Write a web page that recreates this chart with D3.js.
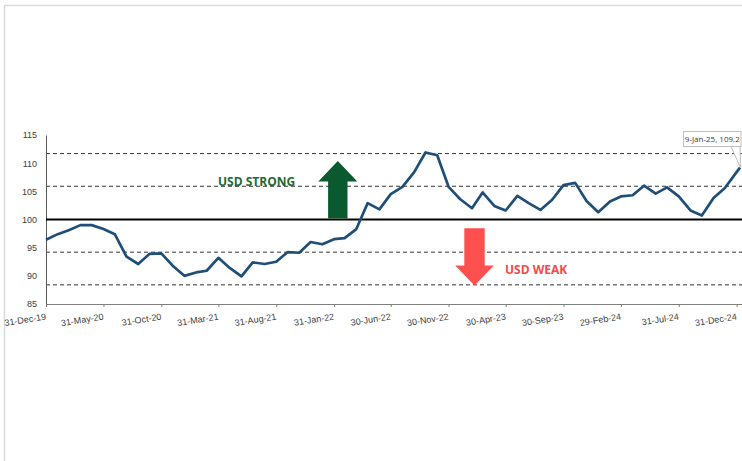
<!DOCTYPE html>
<html>
<head>
<meta charset="utf-8">
<script src="https://cdn.jsdelivr.net/npm/d3@7/dist/d3.min.js"></script>
<style>
  html, body { margin: 0; padding: 0; background: #fff; }
  svg { display: block; font-family: "Open Sans", "Noto Sans", sans-serif; }
</style>
</head>
<body>
<svg id="chart" width="742" height="461"></svg>
<script>
// US Dollar Index, month-end closes from Dec 2019, plus the latest print
const startMonth = "2019-12";
const dxyValues = [
  96.4, 97.4, 98.1, 99.0, 99.0, 98.3, 97.4, 93.4, 92.1, 93.9, 94.0, 91.8,
  90.0, 90.6, 90.9, 93.2, 91.4, 89.9, 92.4, 92.1, 92.5, 94.2, 94.1, 96.0,
  95.6, 96.5, 96.7, 98.3, 102.9, 101.8, 104.5, 105.8, 108.4, 111.9, 111.4, 105.8,
  103.6, 102.0, 104.8, 102.4, 101.6, 104.2, 102.9, 101.7, 103.5, 106.1, 106.5, 103.3,
  101.3, 103.2, 104.1, 104.3, 106.0, 104.6, 105.7, 104.1, 101.6, 100.7, 103.8, 105.6,
  108.4
];
const latestDate = "2025-01-09";
const latestValue = 109.2;

// Reference levels: neutral 100 and bands either side
const neutralLevel = 100;
const bandLevels = [111.7, 105.9, 94.2, 88.4];

// Axis ticks
const yTicks = [85, 90, 95, 100, 105, 110, 115];
const xTickDates = ["2019-12-31", "2020-05-31", "2020-10-31", "2021-03-31", "2021-08-31",
  "2022-01-31", "2022-06-30", "2022-11-30", "2023-04-30", "2023-09-30",
  "2024-02-29", "2024-07-31", "2024-12-31"];

const strongLabel = "USD STRONG";
const weakLabel = "USD WEAK";

const parse = d3.utcParse("%Y-%m-%d");
const fmt = d3.utcFormat("%-d-%b-%y");

// Build month-end dates for the monthly series
const firstMonth = d3.utcParse("%Y-%m")(startMonth);
const series = dxyValues.map((v, i) => {
  const nextMonthStart = d3.utcMonth.offset(firstMonth, i + 1);
  return { date: d3.utcDay.offset(nextMonthStart, -1), value: v };
});
series.push({ date: parse(latestDate), value: latestValue });

const svg = d3.select("#chart");

// Faint frame around the graphic
svg.append("path")
  .attr("d", "M4.5,461 V5.5 H742")
  .attr("fill", "none")
  .attr("stroke", "#d9d9d9")
  .attr("stroke-width", 1.5);

const x = d3.scaleUtc()
  .domain([series[0].date, parse(latestDate)])
  .range([46, 740]);
const y = d3.scaleLinear()
  .domain([85, 115])
  .range([304, 135]);

const plotRight = 742;

// Dashed band lines
svg.append("g").selectAll("line").data(bandLevels).join("line")
  .attr("x1", x.range()[0]).attr("x2", plotRight)
  .attr("y1", d => y(d)).attr("y2", d => y(d))
  .attr("stroke", "#333")
  .attr("stroke-width", 1)
  .attr("stroke-dasharray", "4,3");

// Y axis
const yAxis = svg.append("g")
  .attr("transform", `translate(${x.range()[0]},0)`)
  .call(d3.axisLeft(y).tickValues(yTicks).tickSize(0).tickPadding(9));
yAxis.select(".domain").attr("stroke", "#595959").attr("stroke-width", 1);
yAxis.selectAll("text").attr("fill", "#404040").attr("font-size", "9px");

// X axis
const xAxis = svg.append("g")
  .attr("transform", `translate(0,${y(85)})`)
  .call(d3.axisBottom(x).tickValues(xTickDates.map(parse)).tickFormat(fmt).tickSize(3).tickSizeOuter(0));
xAxis.select(".domain").attr("stroke", "#7f7f7f").attr("stroke-width", 1)
  .attr("d", `M${x.range()[0]},0.5H${plotRight}`);
xAxis.selectAll(".tick line").attr("stroke", "#7f7f7f");
xAxis.selectAll("text")
  .attr("fill", "#404040")
  .attr("font-size", "9px")
  .attr("text-anchor", "end")
  .attr("dy", null)
  .attr("y", 0)
  .attr("transform", "translate(0,15.5) rotate(-9)");

// Neutral line at 100
svg.append("line")
  .attr("x1", x.range()[0]).attr("x2", plotRight)
  .attr("y1", y(neutralLevel)).attr("y2", y(neutralLevel))
  .attr("stroke", "#000")
  .attr("stroke-width", 2);

// Strength arrow (up) and weakness arrow (down)
function arrowPath(cx, tipY, headY, endY, headHalf, shaftHalf) {
  return `M${cx},${tipY} L${cx + headHalf},${headY} L${cx + shaftHalf},${headY} ` +
         `L${cx + shaftHalf},${endY} L${cx - shaftHalf},${endY} L${cx - shaftHalf},${headY} ` +
         `L${cx - headHalf},${headY} Z`;
}
svg.append("path")
  .attr("d", arrowPath(337.8, 161, 181.5, y(neutralLevel) - 1, 19.5, 9.7))
  .attr("fill", "#0b5a2f");
svg.append("path")
  .attr("d", arrowPath(474.5, 285.5, 265.5, 228.3, 19.3, 10.2))
  .attr("fill", "#ff5050");

svg.append("text")
  .attr("x", 218).attr("y", 185.8)
  .attr("font-size", "12px").attr("font-weight", 700)
  .attr("fill", "#1c6b38")
  .text(strongLabel);
svg.append("text")
  .attr("x", 505).attr("y", 274.4)
  .attr("font-size", "12px").attr("font-weight", 700)
  .attr("fill", "#f44b4b")
  .text(weakLabel);

// Index line
const line = d3.line().x(d => x(d.date)).y(d => y(d.value));
svg.append("path")
  .datum(series)
  .attr("fill", "none")
  .attr("stroke", "#1f4e79")
  .attr("stroke-width", 2.7)
  .attr("stroke-linejoin", "round")
  .attr("d", line);

// Callout for the latest value
const last = series[series.length - 1];
const px = x(last.date), py = y(last.value);
const boxX = 683.5, boxY = 131.5, boxW = 57.5, boxH = 15;
svg.append("path")
  .attr("d", `M${boxX + boxW - 10},${boxY + boxH} L${px + 0.5},${py} L${boxX + boxW - 1},${boxY + boxH}`)
  .attr("fill", "#fff")
  .attr("stroke", "#bfbfbf")
  .attr("stroke-width", 1);
svg.append("rect")
  .attr("x", boxX).attr("y", boxY).attr("width", boxW).attr("height", boxH)
  .attr("fill", "#fff")
  .attr("stroke", "#bfbfbf")
  .attr("stroke-width", 1);
svg.append("text")
  .attr("x", boxX + boxW / 2).attr("y", boxY + 10.6)
  .attr("text-anchor", "middle")
  .attr("font-size", "8px")
  .attr("fill", "#404040")
  .text(`${fmt(last.date)}, ${last.value.toFixed(1)}`);
</script>
</body>
</html>
